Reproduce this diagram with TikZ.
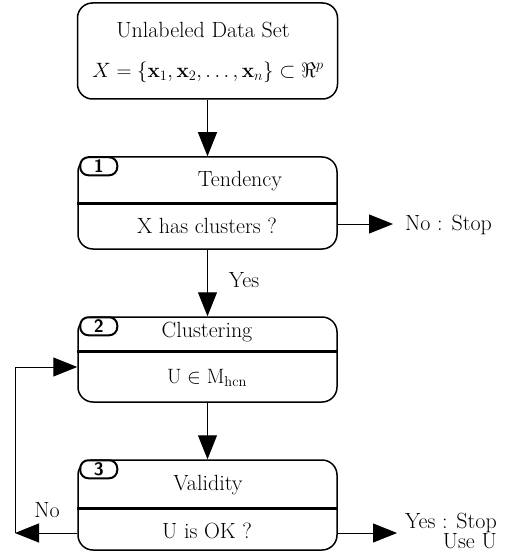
\documentclass[tikz,border=0pt]{standalone}
\usetikzlibrary{arrows.meta}
\begin{document}
\begin{tikzpicture}[x=1pt,y=-1pt,
  font=\fontsize{22}{26}\selectfont,
  box/.style={draw, line width=1.5pt, rounded corners=15pt, inner sep=0pt},
  divider/.style={line width=3pt},
  conn/.style={line width=1pt},
  tip/.style={-{Triangle[length=24pt,width=19pt]}},
  pill/.style={draw, fill=white, line width=2pt, rounded corners=8pt, minimum width=37pt, minimum height=18pt, inner sep=0pt, font=\fontsize{18}{18}\selectfont\sffamily\bfseries},
  lbl/.style={inner sep=0pt}
]
\useasboundingbox (0,0) rectangle (507,556);

% Box 0
\node[box, minimum width=260pt, minimum height=96pt] (b0) at (207.5,51) {};
\node[lbl] (t0a) at (203,30) {Unlabeled Data Set};
\node[lbl] (t0b) at (208,72) {$X=\{\mathbf{x}_1,\mathbf{x}_2,\ldots,\mathbf{x}_n\}\subset\Re^p$};

% Box 1
\node[box, minimum width=259pt, minimum height=92pt] (b1) at (207.5,203) {};
\draw[divider] (b1.west |- 0,203) -- (b1.east |- 0,203);
\node[pill, anchor=north west] (p1) at ([xshift=2pt]b1.north west) {1};
\node[lbl] (t1a) at (240,181) {Tendency};
\node[lbl] (t1b) at (207,226) {X has clusters ?};

% Box 2
\node[box, minimum width=259pt, minimum height=85pt] (b2) at (207.5,359.5) {};
\draw[divider] (b2.west |- 0,351) -- (b2.east |- 0,351);
\node[pill, anchor=north west] (p2) at ([xshift=2pt]b2.north west) {2};
\node[lbl] (t2a) at (207,332) {Clustering};
\node[lbl] (t2b) at (207,378) {$\mathrm{U}\in\mathrm{M}_{\mathrm{hcn}}$};

% Box 3
\node[box, minimum width=259pt, minimum height=90pt] (b3) at (207.5,505) {};
\draw[divider] (b3.west |- 0,508) -- (b3.east |- 0,508);
\node[pill, anchor=north west] (p3) at ([xshift=2pt]b3.north west) {3};
\node[lbl] (t3a) at (208,485) {Validity};
\node[lbl] (t3b) at (207,531) {U is OK ?};

% vertical arrows
\draw[conn,tip] (b0.south) -- (b1.north);
\draw[conn,tip] (b1.south) -- (b2.north);
\draw[conn,tip] (b2.south) -- (b3.north);
\node[lbl] (yes) at (244,280) {Yes};

% No : Stop
\coordinate (n1) at (393,224);
\draw[conn,tip] (b1.east |- 0,224) -- (n1);
\node[lbl, anchor=west] (nostop) at (405,225) {No : Stop};

% Yes : Stop / Use U
\coordinate (y3) at (397,533);
\draw[conn,tip] (b3.east |- 0,533) -- (y3);
\node[lbl, anchor=east, align=right, font=\fontsize{22}{19}\selectfont] (yesstop) at (497,531) {Yes : Stop\\Use U};

% feedback
\coordinate (fbl) at (15,533);
\coordinate (fbt) at (15,367);
\draw[conn,tip] (b3.west |- 0,533) -- (fbl);
\draw[conn,tip] (fbl) -- (fbt) -- (b2.west |- 0,367);
\node[lbl] (no) at (47,510) {No};
\end{tikzpicture}
\end{document}
